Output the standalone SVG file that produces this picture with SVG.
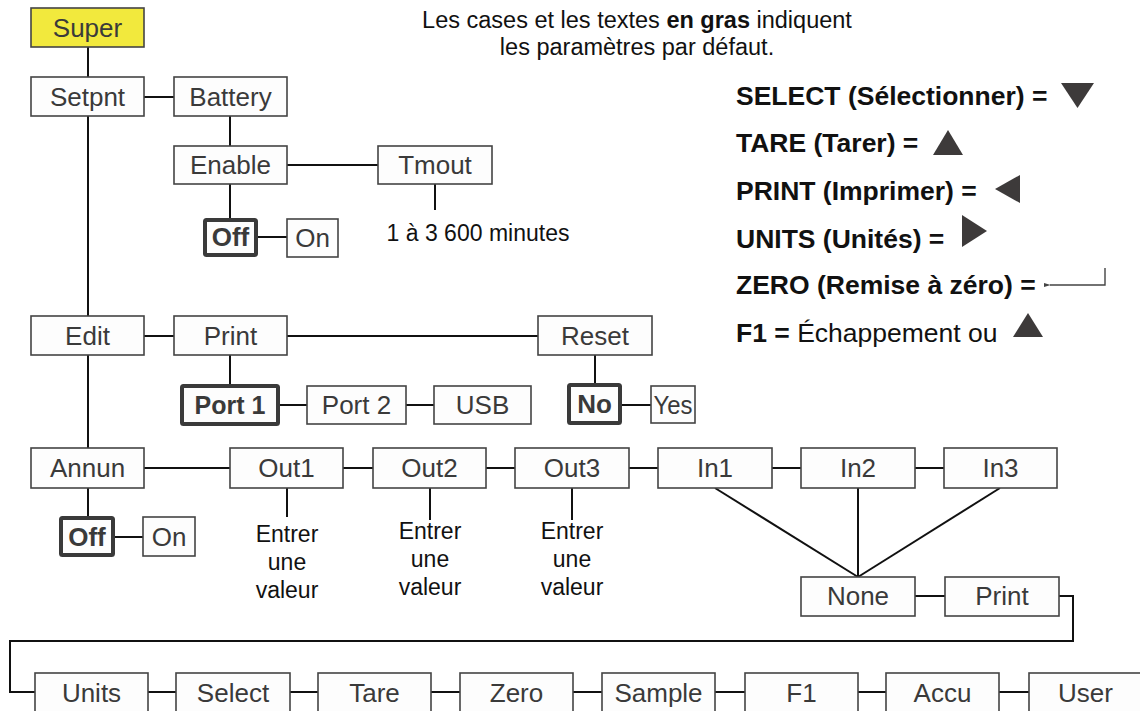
<svg xmlns="http://www.w3.org/2000/svg" width="1140" height="711" viewBox="0 0 1140 711">
  <style>
    text { font-family: "Liberation Sans", Arial, Helvetica, sans-serif; }
    .box { fill: #fdfdfd; stroke: #444; stroke-width: 1.6; }
    .super { fill: #f2e93d; stroke: #444; stroke-width: 1.6; }
    .def { fill: #fdfdfd; stroke: #3a3a3a; stroke-width: 4; }
    .lbl { font-size: 26px; fill: #3a3a3a; text-anchor: middle; }
    .bold { font-weight: bold; }
    .note { font-size: 23px; fill: #111; text-anchor: middle; }
    .leg { font-size: 26.5px; fill: #111; font-weight: bold; }
    .wire { stroke: #111; stroke-width: 2; fill: none; }
    .tri { fill: #3d3a3a; }
  </style>
  <defs>
    <marker id="retHead" viewBox="0 0 10 10" refX="1" refY="5" markerWidth="5" markerHeight="5" orient="auto">
      <path d="M10,2 L0,5 L10,8 Z" fill="#444"/>
    </marker>
  </defs>

  <!-- header note -->
  <g id="header">
    <text x="637" y="28" style="font-size:23.5px; fill:#111; text-anchor:middle">Les cases et les textes <tspan font-weight="bold">en gras</tspan> indiquent</text>
    <text x="637" y="55" style="font-size:23.5px; fill:#111; text-anchor:middle">les paramètres par défaut.</text>
  </g>

  <!-- key legend -->
  <g id="legend">
    <text class="leg" x="736" y="105">SELECT (Sélectionner) =</text>
    <polygon class="tri" points="1061,83 1094,83 1077.5,108"/>
    <text class="leg" x="736" y="152">TARE (Tarer) =</text>
    <polygon class="tri" points="933,155 963,155 948,130"/>
    <text class="leg" x="736" y="200">PRINT (Imprimer) =</text>
    <polygon class="tri" points="1020,175 1020,203 995,189"/>
    <text class="leg" x="736" y="248">UNITS (Unités) =</text>
    <polygon class="tri" points="962,215 962,247 987,231"/>
    <text class="leg" x="736" y="294">ZERO (Remise à zéro) =</text>
    <path d="M1105,268 V285 H1050" stroke="#444" stroke-width="1.4" fill="none" marker-end="url(#retHead)"/>
    <text class="leg" x="736" y="342">F1 =<tspan font-weight="normal"> Échappement ou</tspan></text>
    <polygon class="tri" points="1013,337 1043,337 1028,313"/>
  </g>

  <!-- connectors -->
  <g id="connectors" class="wire">
    <path d="M88,47 V77"/>
    <path d="M88,116 V316"/>
    <path d="M88,355 V448"/>
    <path d="M144,97 H174"/>
    <path d="M230,116 V146"/>
    <path d="M287,165 H378"/>
    <path d="M230,184 V219"/>
    <path d="M258,237 H287"/>
    <path d="M435,184 V210"/>
    <path d="M144,336 H174"/>
    <path d="M287,336 H538"/>
    <path d="M230,355 V385"/>
    <path d="M280,405 H307"/>
    <path d="M406,405 H434"/>
    <path d="M595,355 V384"/>
    <path d="M622,405 H651"/>
    <path d="M88,488 V517"/>
    <path d="M115,537 H143"/>
    <path d="M144,468 H230"/>
    <path d="M343,468 H373"/>
    <path d="M486,468 H515"/>
    <path d="M629,468 H658"/>
    <path d="M772,468 H801"/>
    <path d="M915,468 H944"/>
    <path d="M287,488 V517"/>
    <path d="M430,488 V520"/>
    <path d="M572,488 V520"/>
    <path d="M715,488 L858,577"/>
    <path d="M858,488 V577"/>
    <path d="M1000,488 L858,577"/>
    <path d="M915,596 H945"/>
    <path d="M1059,596 H1073 V641 H10 V692 H35"/>
    <path d="M148,692 H176"/>
    <path d="M290,692 H318"/>
    <path d="M431,692 H460"/>
    <path d="M573,692 H602"/>
    <path d="M715,692 H745"/>
    <path d="M858,692 H886"/>
    <path d="M999,692 H1029"/>
  </g>

  <!-- menu nodes -->
  <g id="n-super"><rect class="super" x="31" y="8" width="113" height="39"/><text class="lbl" x="87.5" y="37">Super</text></g>
  <g id="n-setpnt"><rect class="box" x="31" y="77" width="113" height="39"/><text class="lbl" x="87.5" y="106">Setpnt</text></g>
  <g id="n-battery"><rect class="box" x="174" y="77" width="113" height="39"/><text class="lbl" x="230.5" y="106">Battery</text></g>
  <g id="n-enable"><rect class="box" x="174" y="146" width="113" height="38"/><text class="lbl" x="230.5" y="174">Enable</text></g>
  <g id="n-tmout"><rect class="box" x="378" y="146" width="114" height="38"/><text class="lbl" x="435" y="174">Tmout</text></g>
  <g id="n-tmout-range"><text class="note" x="478" y="241">1 à 3 600 minutes</text></g>
  <g id="n-battery-off"><rect class="def" x="205" y="220" width="51" height="35" rx="1.5"/><text class="lbl bold" x="230.5" y="246">Off</text></g>
  <g id="n-battery-on"><rect class="box" x="287" y="219" width="51" height="38"/><text class="lbl" x="312.5" y="247">On</text></g>

  <g id="n-edit"><rect class="box" x="31" y="316" width="113" height="39"/><text class="lbl" x="87.5" y="345">Edit</text></g>
  <g id="n-print"><rect class="box" x="174" y="316" width="113" height="39"/><text class="lbl" x="230.5" y="345">Print</text></g>
  <g id="n-reset"><rect class="box" x="538" y="316" width="114" height="39"/><text class="lbl" x="595" y="345">Reset</text></g>
  <g id="n-port1"><rect class="def" x="182" y="386" width="96" height="38" rx="1.5"/><text class="lbl bold" x="230" y="414" style="font-size:25px">Port 1</text></g>
  <g id="n-port2"><rect class="box" x="307" y="386" width="99" height="38"/><text class="lbl" x="356.5" y="414">Port 2</text></g>
  <g id="n-usb"><rect class="box" x="434" y="386" width="97" height="38"/><text class="lbl" x="482.5" y="414">USB</text></g>
  <g id="n-reset-no"><rect class="def" x="569" y="385" width="51" height="38" rx="1.5"/><text class="lbl bold" x="594.5" y="413">No</text></g>
  <g id="n-reset-yes"><rect class="box" x="651" y="386" width="44" height="37"/><text class="lbl" x="673" y="414" textLength="39" lengthAdjust="spacingAndGlyphs">Yes</text></g>

  <g id="n-annun"><rect class="box" x="31" y="448" width="113" height="40"/><text class="lbl" x="87.5" y="477">Annun</text></g>
  <g id="n-annun-off"><rect class="def" x="61" y="518" width="52" height="37" rx="1.5"/><text class="lbl bold" x="87" y="546">Off</text></g>
  <g id="n-annun-on"><rect class="box" x="143" y="517" width="52" height="39"/><text class="lbl" x="169" y="546">On</text></g>
  <g id="n-out1"><rect class="box" x="230" y="448" width="113" height="40"/><text class="lbl" x="286.5" y="477">Out1</text></g>
  <g id="n-out2"><rect class="box" x="373" y="448" width="113" height="40"/><text class="lbl" x="429.5" y="477">Out2</text></g>
  <g id="n-out3"><rect class="box" x="515" y="448" width="114" height="40"/><text class="lbl" x="572" y="477">Out3</text></g>
  <g id="n-in1"><rect class="box" x="658" y="448" width="114" height="40"/><text class="lbl" x="715" y="477">In1</text></g>
  <g id="n-in2"><rect class="box" x="801" y="448" width="114" height="40"/><text class="lbl" x="858" y="477">In2</text></g>
  <g id="n-in3"><rect class="box" x="944" y="448" width="113" height="40"/><text class="lbl" x="1000.5" y="477">In3</text></g>
  <g id="n-out1-value"><text class="note" x="287" y="542">Entrer</text><text class="note" x="287" y="570">une</text><text class="note" x="287" y="598">valeur</text></g>
  <g id="n-out2-value"><text class="note" x="430" y="539">Entrer</text><text class="note" x="430" y="567">une</text><text class="note" x="430" y="595">valeur</text></g>
  <g id="n-out3-value"><text class="note" x="572" y="539">Entrer</text><text class="note" x="572" y="567">une</text><text class="note" x="572" y="595">valeur</text></g>
  <g id="n-none"><rect class="box" x="801" y="577" width="114" height="39"/><text class="lbl" x="858" y="605">None</text></g>
  <g id="n-print2"><rect class="box" x="945" y="577" width="114" height="39"/><text class="lbl" x="1002" y="605">Print</text></g>

  <g id="n-units"><rect class="box" x="35" y="673" width="113" height="44"/><text class="lbl" x="91.5" y="702">Units</text></g>
  <g id="n-select"><rect class="box" x="176" y="673" width="114" height="44"/><text class="lbl" x="233" y="702">Select</text></g>
  <g id="n-tare"><rect class="box" x="318" y="673" width="113" height="44"/><text class="lbl" x="374.5" y="702">Tare</text></g>
  <g id="n-zero"><rect class="box" x="460" y="673" width="113" height="44"/><text class="lbl" x="516.5" y="702">Zero</text></g>
  <g id="n-sample"><rect class="box" x="602" y="673" width="113" height="44"/><text class="lbl" x="658.5" y="702">Sample</text></g>
  <g id="n-f1"><rect class="box" x="745" y="673" width="113" height="44"/><text class="lbl" x="801.5" y="702">F1</text></g>
  <g id="n-accu"><rect class="box" x="886" y="673" width="113" height="44"/><text class="lbl" x="942.5" y="702">Accu</text></g>
  <g id="n-user"><rect class="box" x="1029" y="673" width="113" height="44"/><text class="lbl" x="1085.5" y="702">User</text></g>
</svg>
